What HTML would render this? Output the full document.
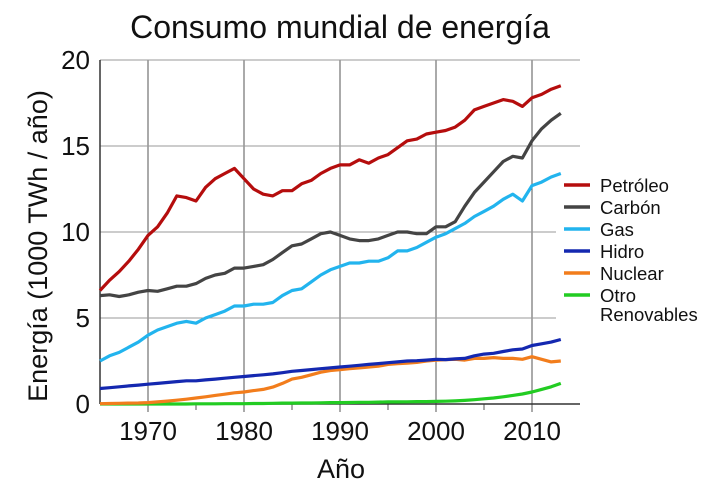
<!DOCTYPE html>
<html><head><meta charset="utf-8"><style>
body{margin:0;background:#fff;font-family:"Liberation Sans",sans-serif}
svg text{font-family:"Liberation Sans",sans-serif;fill:#111}
</style></head><body>
<svg id="c" width="713" height="485"></svg>
<script>
const years=[];for(let y=1965;y<=2013;y++)years.push(y);
const petroleo=[6.6,7.2,7.7,8.3,9.0,9.8,10.3,11.1,12.1,12.0,11.8,12.6,13.1,13.4,13.7,13.1,12.5,12.2,12.1,12.4,12.4,12.8,13.0,13.4,13.7,13.9,13.9,14.2,14.0,14.3,14.5,14.9,15.3,15.4,15.7,15.8,15.9,16.1,16.5,17.1,17.3,17.5,17.7,17.6,17.3,17.8,18.0,18.3,18.5];
const carbon=[6.3,6.35,6.25,6.35,6.5,6.6,6.55,6.7,6.85,6.85,7.0,7.3,7.5,7.6,7.9,7.9,8.0,8.1,8.4,8.8,9.2,9.3,9.6,9.9,10.0,9.8,9.6,9.5,9.5,9.6,9.8,10.0,10.0,9.9,9.9,10.3,10.3,10.6,11.5,12.3,12.9,13.5,14.1,14.4,14.3,15.3,16.0,16.5,16.9];
const gas=[2.5,2.8,3.0,3.3,3.6,4.0,4.3,4.5,4.7,4.8,4.7,5.0,5.2,5.4,5.7,5.7,5.8,5.8,5.9,6.3,6.6,6.7,7.1,7.5,7.8,8.0,8.2,8.2,8.3,8.3,8.5,8.9,8.9,9.1,9.4,9.7,9.9,10.2,10.5,10.9,11.2,11.5,11.9,12.2,11.8,12.7,12.9,13.2,13.4];
const hidro=[0.9,0.95,1.0,1.05,1.1,1.15,1.2,1.25,1.3,1.35,1.35,1.4,1.45,1.5,1.55,1.6,1.65,1.7,1.75,1.82,1.9,1.95,2.0,2.05,2.1,2.15,2.2,2.25,2.3,2.35,2.4,2.45,2.5,2.52,2.55,2.6,2.58,2.62,2.65,2.8,2.9,2.95,3.05,3.15,3.2,3.4,3.5,3.6,3.75];
const nuclear=[0.02,0.03,0.04,0.05,0.06,0.08,0.12,0.17,0.22,0.28,0.35,0.42,0.5,0.57,0.65,0.7,0.78,0.85,0.98,1.2,1.45,1.55,1.7,1.85,1.95,2.0,2.05,2.1,2.15,2.2,2.3,2.35,2.38,2.42,2.5,2.55,2.58,2.6,2.55,2.65,2.65,2.7,2.65,2.65,2.6,2.75,2.6,2.45,2.5];
const otro=[0,0,0,0,0,0,0,0,0,0,0.01,0.01,0.01,0.02,0.02,0.02,0.03,0.03,0.04,0.05,0.05,0.06,0.06,0.07,0.08,0.08,0.09,0.1,0.1,0.11,0.12,0.12,0.13,0.14,0.14,0.15,0.16,0.18,0.21,0.25,0.3,0.35,0.42,0.5,0.58,0.7,0.85,1.0,1.2];
const seriesNames=["Petróleo","Carbón","Gas","Hidro","Nuclear","Otro","Renovables"];
const xTicks=[1970,1980,1990,2000,2010];
const yTicks=[0,5,10,15,20];
const svg=document.getElementById('c');const NS="http://www.w3.org/2000/svg";
function X(y){return 100+(y-1965)*9.6}
function Y(v){return 404-v*17.2}
function mk(t,a,p){const e=document.createElementNS(NS,t);for(const k in a)e.setAttribute(k,a[k]);(p||svg).appendChild(e);return e}
let t=mk('text',{x:340,y:38,'text-anchor':'middle','font-size':32});t.textContent="Consumo mundial de energía";


xTicks.forEach(v=>{const l=mk('line',{x1:X(v),x2:X(v),y1:Y(20),y2:Y(0),stroke:'#555','stroke-width':1});


const tx=mk('text',{x:X(v),y:440,'text-anchor':'middle','font-size':26});tx.textContent=v;

});
[1975,1985,1995,2005].forEach(v=>mk('line',{x1:X(v),x2:X(v),y1:404,y2:410,stroke:'#555'}));
xTicks.forEach(v=>mk('line',{x1:X(v),x2:X(v),y1:404,y2:412,stroke:'#555'}));
yTicks.forEach(v=>{const xe=(v==5||v==10)?556:580;const l=mk('line',{x1:100,x2:v==0?580:xe,y1:Y(v),y2:Y(v),stroke:v==0?'#333':'#999','stroke-width':v==0?1.5:1});


const tx=mk('text',{x:90,y:Y(v)+9,'text-anchor':'end','font-size':26});tx.textContent=v;

});
mk('line',{x1:100,x2:100,y1:Y(20),y2:404,stroke:'#333','stroke-width':1.5});
t=mk('text',{x:0,y:0,'text-anchor':'middle','font-size':27,transform:'translate(47,246) rotate(-90)'});t.textContent="Energía (1000 TWh / año)";


t=mk('text',{x:341,y:478,'text-anchor':'middle','font-size':27});t.textContent="Año";


const data=[petroleo,carbon,gas,hidro,nuclear,otro];
const colors=['#b50d0d','#444444','#22b4ee','#1428b0','#f27d1c','#22cc22'];
const order=[5,4,3,2,1,0];
order.forEach(i=>{const d=data[i].map((v,k)=>(k?'L':'M')+X(years[k]).toFixed(1)+','+Y(v).toFixed(1)).join('');
const p=mk('path',{d:d,fill:'none',stroke:colors[i],'stroke-width':3.2,'stroke-linejoin':'round'});

});
colors.forEach((c,i)=>{const y=185+i*22;
const g=mk('g',{});


mk('line',{x1:564,x2:590,y1:y,y2:y,stroke:c,'stroke-width':3.5},g);
const tx=mk('text',{x:600,y:y+7,'font-size':18.5},g);tx.textContent=seriesNames[i];
if(i==5){const t2=mk('text',{x:600,y:y+26,'font-size':18.5},g);t2.textContent=seriesNames[6];}});
</script>
</body></html>
